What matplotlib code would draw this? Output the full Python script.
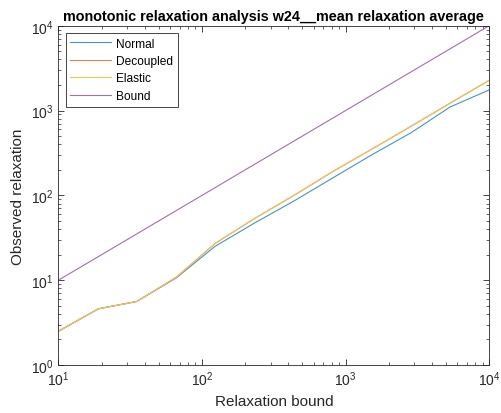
import matplotlib
matplotlib.use("Agg")
import matplotlib.pyplot as plt

plt.rcParams['font.family'] = ['Liberation Sans', 'DejaVu Sans']

# relaxation bound (x) and observed relaxation per method
bound_x = [10, 19, 35, 66, 123, 231, 433, 811, 1520, 2848, 5336, 10000]
normal = [2.5, 4.6, 5.6, 10.6, 25, 47, 85, 160, 300, 546, 1100, 1750]
decoupled = [2.5, 4.6, 5.6, 10.8, 27, 53, 99, 190, 350, 650, 1220, 2270]
elastic = [2.5, 4.6, 5.6, 10.8, 27, 53, 99, 190, 350, 650, 1220, 2270]
bound = [10, 19, 35, 66, 123, 231, 433, 811, 1520, 2848, 5336, 10000]

# MATLAB default colours, a bit lighter as the thin lines render
series = [("Normal", normal, "#4095CE"),
          ("Decoupled", decoupled, "#E37E53"),
          ("Elastic", elastic, "#F2C558"),
          ("Bound", bound, "#A66DB1")]

fig = plt.figure(figsize=(5.02, 4.14), dpi=100)
ax = fig.add_axes([0.1165, 0.116, 0.858, 0.8195])

for name, vals, col in series:
    ax.plot(bound_x, vals, color=col, lw=0.8, label=name)

ax.set_xscale('log')
ax.set_yscale('log')
ax.set_xlim(10, 1e4)
ax.set_ylim(1, 1e4)

ax.tick_params(which='both', direction='in', top=True, right=True,
               colors='#262626', labelsize=10)
ax.tick_params(which='major', length=4, width=0.6)
ax.tick_params(which='minor', length=2, width=0.5)
for sp in ax.spines.values():
    sp.set_color('#262626')
    sp.set_linewidth(0.6)

ax.set_xlabel("Relaxation bound", fontsize=11, color='#262626')
ax.set_ylabel("Observed relaxation", fontsize=11, color='#262626')
ax.set_title("monotonic relaxation analysis w24__mean relaxation average",
             fontsize=10.4, fontweight='bold', pad=4)

leg = ax.legend(loc='upper left', fontsize=8.6, fancybox=False, framealpha=1,
                edgecolor='#262626', borderaxespad=0.6, handlelength=3.4,
                labelspacing=0.45, handletextpad=0.4)
leg.get_frame().set_linewidth(0.6)

fig.savefig("out.png", dpi=100)
